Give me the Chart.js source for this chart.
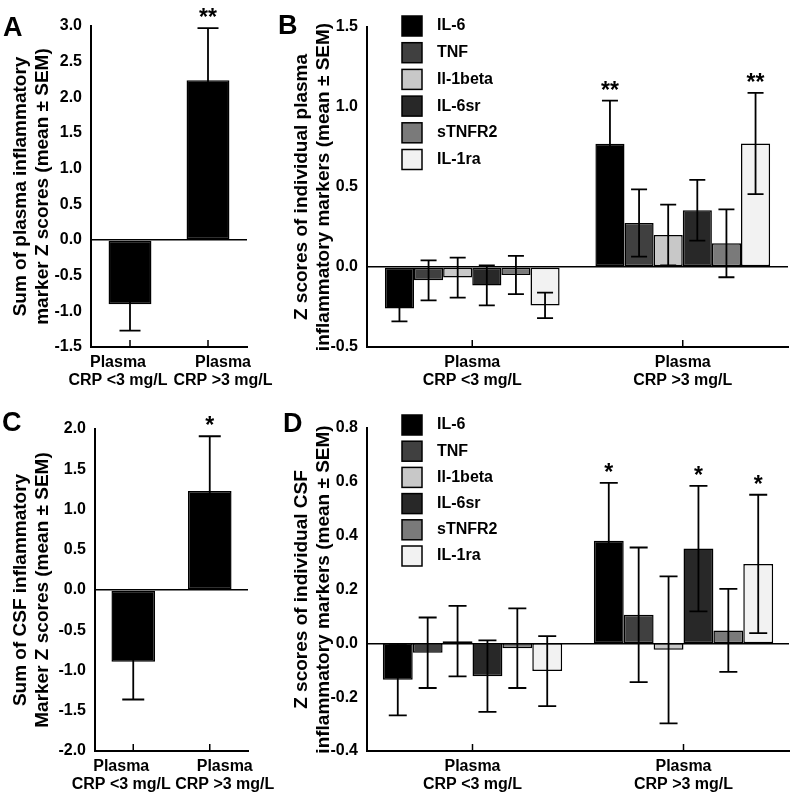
<!DOCTYPE html>
<html>
<head>
<meta charset="utf-8">
<script src="https://cdn.jsdelivr.net/npm/chart.js@4.4.1/dist/chart.umd.min.js"></script>
<style>
  body { margin: 0; background: #fff; }
  #wrap { position: relative; width: 800px; height: 796px; font-family: Arial, "Liberation Sans", sans-serif; }
  canvas { position: absolute; }
  .letter { position: absolute; font-weight: bold; font-size: 27px; line-height: 27px; color: #000; }
</style>
</head>
<body>
<div id="wrap">
  <canvas id="chartB" width="540" height="400" style="left:260px;top:0"></canvas>
  <canvas id="chartD" width="540" height="396" style="left:260px;top:400px"></canvas>
  <canvas id="chartA" width="285" height="400" style="left:0;top:0"></canvas>
  <canvas id="chartC" width="285" height="396" style="left:0;top:400px"></canvas>
  <div class="letter" style="left:3px;top:14px">A</div>
  <div class="letter" style="left:278px;top:12px">B</div>
  <div class="letter" style="left:2px;top:409px">C</div>
  <div class="letter" style="left:283px;top:410px">D</div>
</div>
<script>
const groups = [['Plasma', 'CRP <3 mg/L'], ['Plasma', 'CRP >3 mg/L']];
const markers = ['IL-6', 'TNF', 'Il-1beta', 'IL-6sr', 'sTNFR2', 'IL-1ra'];
const markerColors = ['#000000', '#404040', '#c8c8c8', '#282828', '#7a7a7a', '#f2f2f2'];

// A - sum of plasma marker z scores
const sumPlasmaMean = [-0.90, 2.24];
const sumPlasmaSem = [0.37, 0.73];
const sumPlasmaStars = ['', '**'];

// C - sum of CSF marker z scores
const sumCsfMean = [-0.89, 1.23];
const sumCsfSem = [0.47, 0.68];
const sumCsfStars = ['', '*'];

// B - plasma markers, one row per marker: [CRP <3, CRP >3]
const plasmaMean = [[-0.26, 0.77], [-0.083, 0.275], [-0.066, 0.20], [-0.115, 0.355], [-0.05, 0.148], [-0.24, 0.772]];
const plasmaSem = [[0.08, 0.27], [0.125, 0.21], [0.125, 0.19], [0.125, 0.19], [0.12, 0.212], [0.08, 0.316]];
const plasmaStars = [['', '**'], ['', ''], ['', ''], ['', ''], ['', ''], ['', '**']];

// D - CSF markers
const csfMean = [[-0.135, 0.381], [-0.035, 0.106], [0.008, -0.024], [-0.122, 0.352], [-0.018, 0.048], [-0.103, 0.295]];
const csfSem = [[0.133, 0.215], [0.131, 0.25], [0.131, 0.273], [0.133, 0.233], [0.148, 0.154], [0.13, 0.257]];
const csfStars = [['', '*'], ['', ''], ['', ''], ['', '*'], ['', ''], ['', '*']];

const fontFamily = 'Arial, "Liberation Sans", sans-serif';

// error bars + significance stars on top of the bars
const errorBars = {
  id: 'errorBars',
  afterDatasetsDraw(chart, args, opts) {
    const ctx = chart.ctx, y = chart.scales.y;
    const c = opts.cap / 2;
    ctx.save();
    ctx.strokeStyle = '#000';
    ctx.lineWidth = opts.lineWidth;
    chart.data.datasets.forEach((ds, d) => {
      chart.getDatasetMeta(d).data.forEach((bar, i) => {
        const hi = y.getPixelForValue(ds.data[i] + ds.sem[i]);
        const lo = y.getPixelForValue(ds.data[i] - ds.sem[i]);
        ctx.beginPath();
        ctx.moveTo(bar.x, hi); ctx.lineTo(bar.x, lo);
        ctx.moveTo(bar.x - c, hi); ctx.lineTo(bar.x + c, hi);
        ctx.moveTo(bar.x - c, lo); ctx.lineTo(bar.x + c, lo);
        ctx.stroke();
        if (ds.stars && ds.stars[i]) {
          ctx.fillStyle = '#000';
          ctx.font = 'bold 23px ' + fontFamily;
          ctx.textAlign = 'center';
          ctx.textBaseline = 'alphabetic';
          ctx.fillText(ds.stars[i], bar.x, hi - 3);
        }
      });
    });
    ctx.restore();
  }
};

// ticks pointing into the plot, and spread-out labels for the narrow panels
const xTicksInside = {
  id: 'xTicksInside',
  afterDraw(chart, args, opts) {
    const ctx = chart.ctx, x = chart.scales.x, bottom = chart.chartArea.bottom;
    ctx.save();
    ctx.strokeStyle = '#000';
    ctx.lineWidth = 1.5;
    chart.data.labels.forEach((lab, i) => {
      const px = x.getPixelForValue(i);
      ctx.beginPath();
      ctx.moveTo(px, bottom);
      ctx.lineTo(px, bottom - 7);
      ctx.stroke();
      if (opts.spread) {
        const lx = px + (i === 0 ? -opts.spread[0] : opts.spread[1]);
        ctx.fillStyle = '#000';
        ctx.font = 'bold 16px ' + fontFamily;
        ctx.textAlign = 'center';
        ctx.textBaseline = 'middle';
        lab.forEach((line, k) => ctx.fillText(line, lx, bottom + 7 + 8.8 + k * 17.6));
      }
    });
    ctx.restore();
  }
};

const boxLegend = {
  id: 'boxLegend',
  afterDraw(chart, args, opts) {
    if (!opts.display) return;
    const ctx = chart.ctx;
    ctx.save();
    ctx.font = 'bold 16px ' + fontFamily;
    ctx.textAlign = 'left';
    ctx.textBaseline = 'middle';
    ctx.lineWidth = 1.5;
    ctx.strokeStyle = '#000';
    chart.data.datasets.forEach((ds, i) => {
      const top = opts.y + i * opts.pitch;
      ctx.fillStyle = ds.backgroundColor;
      ctx.fillRect(opts.x, top, 20, 20);
      ctx.strokeRect(opts.x, top, 20, 20);
      ctx.fillStyle = '#000';
      ctx.fillText(ds.label, opts.x + 35, top + 10);
    });
    ctx.restore();
  }
};

function makeChart(id, o) {
  return new Chart(document.getElementById(id), {
    type: 'bar',
    data: { labels: groups, datasets: o.datasets },
    options: {
      responsive: false,
      animation: false,
      layout: { padding: o.padding },
      datasets: {
        bar: { barPercentage: 1, categoryPercentage: o.cat, borderColor: '#000', borderWidth: 1.5, borderSkipped: false }
      },
      plugins: {
        legend: { display: false },
        tooltip: { enabled: false },
        errorBars: { cap: o.cap, lineWidth: 1.8 },
        xTicksInside: { spread: o.spread },
        boxLegend: o.legend || { display: false }
      },
      scales: {
        x: {
          grid: { display: false, drawTicks: false },
          border: { color: '#000', width: 2 },
          ticks: { display: !o.spread, color: '#000', font: { family: fontFamily, size: 16, weight: 'bold', lineHeight: 1.1 }, padding: 7, autoSkip: false, maxRotation: 0 },
          afterFit: s => { s.height = o.xHeight; }
        },
        y: {
          min: o.min, max: o.max,
          ticks: { stepSize: o.step, color: '#000', padding: 9, font: { family: fontFamily, size: o.tickSize, weight: 'bold' }, callback: v => v.toFixed(1) },
          grid: { color: c => Math.abs(c.tick.value) < 1e-9 ? '#000' : 'rgba(0,0,0,0)', lineWidth: 1.5, drawTicks: false },
          border: { color: '#000', width: 2 },
          title: { display: true, text: o.title, color: '#000', padding: { top: o.titlePad, bottom: 0 }, font: { family: fontFamily, size: 19, weight: 'bold', lineHeight: 1.15 } },
          afterFit: s => { s.width = o.yWidth; }
        }
      }
    },
    plugins: [errorBars, xTicksInside, boxLegend]
  });
}

function markerSets(means, sems, stars) {
  return markers.map((m, k) => ({
    label: m,
    data: means[k],
    sem: sems[k],
    stars: stars[k],
    backgroundColor: markerColors[k]
  }));
}

makeChart('chartA', {
  datasets: [{ label: 'Sum', data: sumPlasmaMean, sem: sumPlasmaSem, stars: sumPlasmaStars, backgroundColor: '#000' }],
  padding: { left: 0, top: 26, right: 38, bottom: 0 },
  yWidth: 91, xHeight: 53, cat: 0.55, cap: 21, spread: [12, 15],
  min: -1.5, max: 3.0, step: 0.5, tickSize: 16, titlePad: 10,
  title: ['Sum of plasma inflammatory', 'marker Z scores (mean ± SEM)']
});

makeChart('chartB', {
  datasets: markerSets(plasmaMean, plasmaSem, plasmaStars),
  padding: { left: 0, top: 27, right: 12, bottom: 0 },
  yWidth: 107, xHeight: 53, cat: 0.83, cap: 16,
  min: -0.5, max: 1.5, step: 0.5, tickSize: 16, titlePad: 31,
  title: ['Z scores of individual plasma', 'inflammatory markers (mean ± SEM)'],
  legend: { display: true, x: 142, y: 16, pitch: 26.7 }
});

makeChart('chartC', {
  datasets: [{ label: 'Sum', data: sumCsfMean, sem: sumCsfSem, stars: sumCsfStars, backgroundColor: '#000' }],
  padding: { left: 0, top: 29, right: 37, bottom: 0 },
  yWidth: 95, xHeight: 45, cat: 0.57, cap: 22, spread: [12, 15],
  min: -2.0, max: 2.0, step: 0.5, tickSize: 16, titlePad: 10,
  title: ['Sum of CSF inflammatory', 'Marker Z scores (mean ± SEM)']
});

makeChart('chartD', {
  datasets: markerSets(csfMean, csfSem, csfStars),
  padding: { left: 0, top: 28, right: 11, bottom: 0 },
  yWidth: 107, xHeight: 45, cat: 0.85, cap: 18,
  min: -0.4, max: 0.8, step: 0.2, tickSize: 16, titlePad: 31,
  title: ['Z scores of individual CSF', 'inflammatory markers (mean ± SEM)'],
  legend: { display: true, x: 142, y: 15, pitch: 26.2 }
});
</script>
</body>
</html>
